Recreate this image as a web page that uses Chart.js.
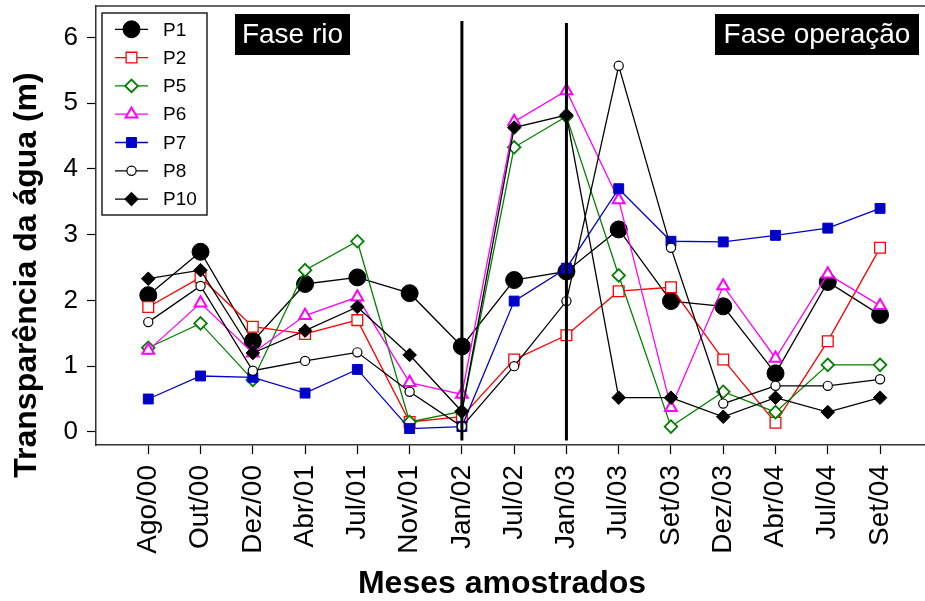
<!DOCTYPE html>
<html>
<head>
<meta charset="utf-8">
<script src="https://cdn.jsdelivr.net/npm/chart.js@4/dist/chart.umd.min.js"></script>
<style>
html,body{margin:0;padding:0;background:#fff;overflow:hidden}
#wrap{width:925px;height:601px;position:relative}
</style>
</head>
<body>
<div id="wrap"><canvas id="c" width="925" height="601"></canvas></div>
<script>
// ---- Data ----
const categories = ['Ago/00','Out/00','Dez/00','Abr/01','Jul/01','Nov/01','Jan/02','Jul/02','Jan/03','Jul/03','Set/03','Dez/03','Abr/04','Jul/04','Set/04'];
const yTickValues = [0, 1, 2, 3, 4, 5, 6];

const P1  = [2.08, 2.74, 1.38, 2.25, 2.35, 2.11, 1.30, 2.31, 2.44, 3.08, 1.99, 1.91, 0.89, 2.28, 1.78];
const P2  = [1.90, 2.35, 1.60, 1.49, 1.70, 0.15, 0.23, 1.10, 1.47, 2.14, 2.20, 1.10, 0.14, 1.38, 2.80];
const P5  = [1.28, 1.65, 0.79, 2.46, 2.90, 0.15, 0.31, 4.33, 4.80, 2.38, 0.08, 0.61, 0.30, 1.02, 1.02];
const P6  = [1.24, 1.96, 1.20, 1.77, 2.05, 0.75, 0.57, 4.72, 5.19, 3.53, 0.37, 2.22, 1.12, 2.40, 1.92];
const P7  = [0.50, 0.85, 0.83, 0.59, 0.95, 0.05, 0.08, 1.99, 2.49, 3.70, 2.90, 2.89, 2.99, 3.10, 3.40];
const P8  = [1.67, 2.22, 0.93, 1.08, 1.21, 0.61, 0.08, 1.00, 1.99, 5.57, 2.80, 0.43, 0.70, 0.70, 0.80];
const P10 = [2.33, 2.46, 1.20, 1.54, 1.90, 1.17, 0.31, 4.63, 4.82, 0.52, 0.52, 0.23, 0.52, 0.30, 0.52];

const phaseBoundaries = ['Jan/02', 'Jan/03'];
const phaseLabels = ['Fase rio', 'Fase operação'];
const yTitle = 'Transparência da água (m)';
const xTitle = 'Meses amostrados';

// ---- Chart ----
const FONT = '"Liberation Sans", Arial, Helvetica, sans-serif';
Chart.defaults.font.family = FONT;
Chart.defaults.color = '#000';

function series(label, values, color, style, radius, fill, bw, order) {
  return {
    label: label,
    data: values.map((v, i) => ({x: i, y: v})),
    borderColor: color,
    backgroundColor: color,
    borderWidth: 1.3,
    pointStyle: style,
    pointRadius: radius,
    pointBackgroundColor: fill,
    pointBorderColor: color,
    pointBorderWidth: bw,
    pointHoverRadius: radius,
    tension: 0,
    order: order
  };
}

const datasets = [
  series('P1',  P1,  '#000000', 'circle',   8.5, '#000000', 1,   7),
  series('P2',  P2,  '#FF0000', 'rect',     7.6, '#FFFFFF', 1.3, 6),
  series('P5',  P5,  '#008000', 'rectRot',  6.3, '#FFFFFF', 1.8, 5),
  series('P6',  P6,  '#FF00FF', 'triangle', 6.8, '#FFFFFF', 2,   4),
  series('P7',  P7,  '#0000C8', 'rect',     7.0, '#0000C8', 1,   3),
  series('P8',  P8,  '#000000', 'circle',   4.6, '#FFFFFF', 1.2, 2),
  series('P10', P10, '#000000', 'rectRot',  6.8, '#000000', 1,   1)
];

const decor = {
  id: 'decor',
  afterDatasetsDraw(chart) {
    const {ctx, scales: {x, y}} = chart;
    ctx.save();
    ctx.strokeStyle = '#000';
    ctx.lineWidth = 3;
    phaseBoundaries.forEach((lab, k) => {
      const px = x.getPixelForValue(categories.indexOf(lab));
      ctx.beginPath();
      ctx.moveTo(px, y.getPixelForValue(k === 0 ? 6.25 : 6.22));
      ctx.lineTo(px, y.getPixelForValue(-0.13));
      ctx.stroke();
    });
    ctx.restore();
  },
  afterDraw(chart) {
    const {ctx, chartArea: a} = chart;
    ctx.save();
    // top frame line
    ctx.strokeStyle = '#333';
    ctx.lineWidth = 1.5;
    ctx.beginPath();
    ctx.moveTo(a.left, a.top);
    ctx.lineTo(a.right + 2, a.top);
    ctx.stroke();

    // axis titles
    ctx.font = 'bold 32px ' + FONT;
    ctx.fillStyle = '#000';
    ctx.textAlign = 'center';
    ctx.textBaseline = 'middle';
    ctx.fillText(xTitle, 502, 584);
    ctx.save();
    ctx.translate(27, 275);
    ctx.rotate(-Math.PI / 2);
    ctx.fillText(yTitle, 0, 0);
    ctx.restore();

    // phase labels (black boxes)
    const boxes = [[235, 14, 115, 41], [715, 14, 204, 41]];
    ctx.font = '28px ' + FONT;
    ctx.textAlign = 'center';
    ctx.textBaseline = 'middle';
    boxes.forEach((b, i) => {
      ctx.fillStyle = '#000';
      ctx.fillRect(b[0], b[1], b[2], b[3]);
      ctx.fillStyle = '#fff';
      ctx.fillText(phaseLabels[i], b[0] + b[2] / 2, b[1] + b[3] / 2 + 1);
    });

    // legend
    const lx = 102, ly = 13, lw = 105, lh = 202;
    ctx.fillStyle = '#fff';
    ctx.fillRect(lx, ly, lw, lh);
    ctx.strokeStyle = '#222';
    ctx.lineWidth = 1.5;
    ctx.strokeRect(lx, ly, lw, lh);
    ctx.font = '19px ' + FONT;
    ctx.textAlign = 'left';
    ctx.textBaseline = 'middle';
    chart.data.datasets.forEach((ds, i) => {
      const cy = 29.3 + i * 28.3;
      ctx.strokeStyle = ds.borderColor;
      ctx.lineWidth = 1.3;
      ctx.beginPath();
      ctx.moveTo(115, cy);
      ctx.lineTo(148, cy);
      ctx.stroke();
      ctx.fillStyle = ds.pointBackgroundColor;
      ctx.strokeStyle = ds.pointBorderColor;
      ctx.lineWidth = ds.pointBorderWidth;
      Chart.helpers.drawPoint(ctx, {pointStyle: ds.pointStyle, radius: ds.pointRadius, rotation: 0, borderWidth: ds.pointBorderWidth}, 131.5, cy);
      ctx.fillStyle = '#000';
      ctx.fillText(ds.label, 163, cy + 1);
    });
    ctx.restore();
  }
};

new Chart(document.getElementById('c'), {
  type: 'line',
  data: {datasets: datasets},
  options: {
    responsive: false,
    animation: false,
    layout: {autoPadding: false, padding: {top: 6, left: 0, right: 0, bottom: 0}},
    plugins: {legend: {display: false}, tooltip: {enabled: false}},
    scales: {
      x: {
        type: 'linear',
        min: -1,
        max: 14.86,
        afterBuildTicks: s => { s.ticks = categories.map((c, i) => ({value: i})); },
        afterFit: s => { s.height = 156; s.paddingLeft = 0; s.paddingRight = 0; },
        ticks: {
          callback: v => categories[v] !== undefined ? categories[v] : '',
          autoSkip: false,
          minRotation: 90,
          maxRotation: 90,
          color: '#000',
          font: {size: 28},
          padding: 11
        },
        grid: {drawOnChartArea: false, drawTicks: true, tickLength: 9, tickColor: '#000', tickWidth: 1.2},
        border: {display: true, color: '#333', width: 1.5},
        title: {display: false}
      },
      y: {
        type: 'linear',
        min: -0.2,
        max: 6.48,
        afterBuildTicks: s => { s.ticks = yTickValues.map(v => ({value: v})); },
        afterFit: s => { s.width = 96; s.paddingTop = 0; s.paddingBottom = 0; },
        ticks: {color: '#000', font: {size: 26}, padding: 9},
        grid: {drawOnChartArea: false, drawTicks: true, tickLength: 9, tickColor: '#000', tickWidth: 1.2},
        border: {display: true, color: '#333', width: 1.5},
        title: {display: false}
      }
    }
  },
  plugins: [decor]
});
</script>
</body>
</html>
